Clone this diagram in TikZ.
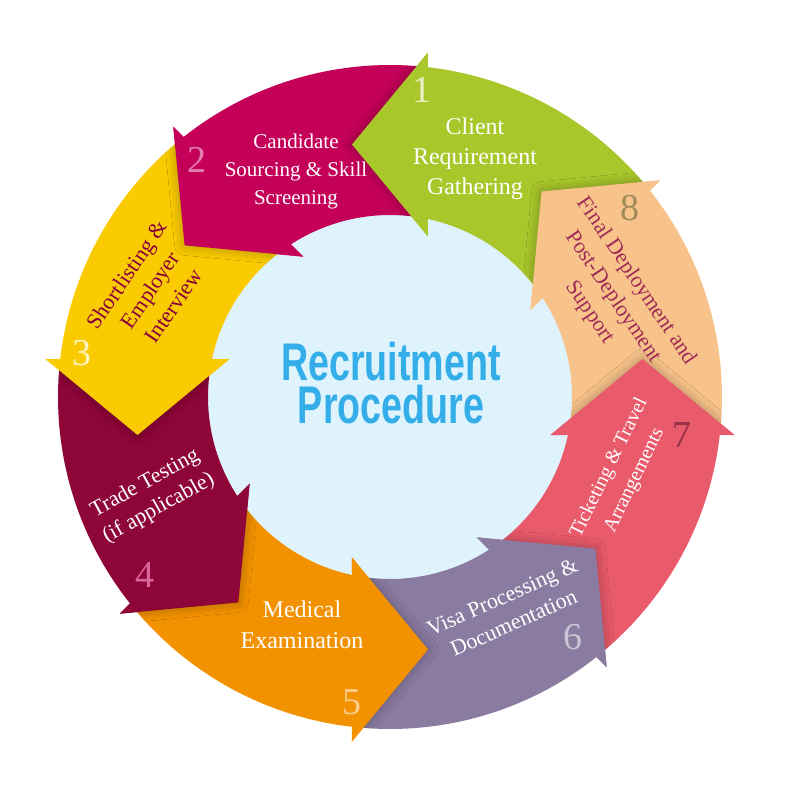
\documentclass[tikz,border=0pt]{standalone}
\usepackage{fontspec}
\setmainfont{Liberation Serif}
\newfontfamily\titlefont{Liberation Sans}
\usetikzlibrary{positioning,shadows.blur}

\definecolor{stepA}{HTML}{A9C72B}
\definecolor{stepB}{HTML}{C40058}
\definecolor{stepC}{HTML}{FACB00}
\definecolor{stepD}{HTML}{8E0538}
\definecolor{stepE}{HTML}{F39200}
\definecolor{stepF}{HTML}{8A7BA0}
\definecolor{stepG}{HTML}{E95A6B}
\definecolor{stepH}{HTML}{F8C38A}
\definecolor{hubblue}{HTML}{DFF3FD}
\definecolor{titleblue}{HTML}{33AEE8}
\definecolor{numseven}{HTML}{973049}
\definecolor{numeight}{HTML}{A08A5A}

\tikzset{
  steplabel/.style={align=center,text=white,font=\fontsize{11}{14}\selectfont},
  stepnum/.style={font=\fontsize{19}{19}\selectfont},
  headshadow/.style={blur shadow={shadow xshift=0pt,shadow yshift=0pt,shadow blur radius=5pt,shadow blur steps=10,shadow opacity=30}},
}

\begin{document}
\begin{tikzpicture}[x=0.5pt,y=0.5pt]
    \useasboundingbox (-390,-403) rectangle (410,397);
    \fill[hubblue] (0,0) circle (186);
    % ring bodies, one per step, counterclockwise
    \foreach \c [count=\k] in {stepA,stepB,stepC,stepD,stepE,stepF,stepG,stepH}{
      \begin{scope}[rotate={90+45*(\k-1)}]
        \fill[\c] (-50.18:332) arc[start angle=-50.18,end angle=-6.57,radius=332]
          -- (344.5,-38) -- (252.5,38) -- (160.5,-38) -- (-12.05:182)
          arc[start angle=-12.05,end angle=-54.49,radius=182] -- cycle;
      \end{scope}
    }
    % heads again on top of the next tail, with a soft shadow
    \foreach \c [count=\k] in {stepA,stepB,stepC,stepD,stepE,stepF,stepG,stepH}{
      \begin{scope}[rotate={90+45*(\k-1)}]
        \begin{scope}
          \clip (100,-35) rectangle (400,120);
          \clip (332,0) arc[start angle=0,end angle=360,radius=332] -- (182,0)
            arc[start angle=360,end angle=0,radius=182] -- cycle;
          \path[headshadow] (344.5,-38) -- (252.5,38) -- (160.5,-38) -- cycle;
        \end{scope}
        \fill[\c] (344.5,-38) -- (252.5,38) -- (160.5,-38) -- cycle;
      \end{scope}
    }
    \node[xscale=0.71,text=titleblue,align=center,font=\titlefont\bfseries\fontsize{26.5}{21.5}\selectfont] (title) at (1,14) {Recruitment\\Procedure};

    \node[steplabel,font=\fontsize{12}{15}\selectfont] (lab1) at (85,238) {Client\\Requirement\\Gathering};
    \node[steplabel,font=\fontsize{10.5}{14}\selectfont] (lab2) at (-94,226) {Candidate\\Sourcing \& Skill\\Screening};
    \node[steplabel,text=stepB!70!black,rotate=56] (lab3) at (-240,107) {Shortlisting \&\\Employer\\Interview};
    \node[steplabel,rotate=29] (lab4) at (-238,-99) {Trade Testing\\(if applicable)};
    \node[steplabel,font=\fontsize{12}{15.5}\selectfont] (lab5) at (-88,-228) {Medical\\Examination};
    \node[steplabel,rotate=24] (lab6) at (118,-213) {Visa Processing \&\\Documentation};
    \node[steplabel,font=\fontsize{10}{14}\selectfont,rotate=64] (lab7) at (232,-77) {Ticketing \& Travel\\Arrangements};
    \node[steplabel,text=stepD!85!white,rotate=-56] (lab8) at (223,100) {Final Deployment and\\Post-Deployment\\Support};

    \node[stepnum,text=stepA!25!white] (num1) at (32,307) {1};
    \node[stepnum,text=stepB!50!white] (num2) at (-193,237) {2};
    \node[stepnum,text=stepC!25!white] (num3) at (-308,44) {3};
    \node[stepnum,text=stepB!60!white] (num4) at (-245,-178) {4};
    \node[stepnum,text=stepE!45!white] (num5) at (-38,-305) {5};
    \node[stepnum,text=stepF!45!white] (num6) at (183,-240) {6};
    \node[stepnum,text=numseven] (num7) at (292,-38) {7};
    \node[stepnum,text=numeight] (num8) at (240,189) {8};
\end{tikzpicture}
\end{document}
